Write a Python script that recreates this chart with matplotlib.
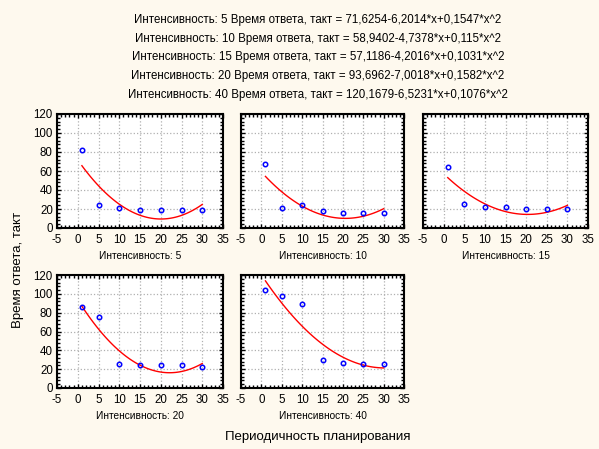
import numpy as np
import matplotlib.pyplot as plt
from matplotlib.ticker import MultipleLocator

plt.rcParams['font.family'] = ['Liberation Sans', 'DejaVu Sans']
plt.rcParams['axes.unicode_minus'] = False

# Данные
x = [1, 5, 10, 15, 20, 25, 30]
intens = [5, 10, 15, 20, 40]
y5 = [82, 24, 21, 19, 19, 19, 19]
y10 = [67, 21, 24, 18, 16, 16, 16]
y15 = [64, 25, 22, 22, 20, 20, 20]
y20 = [86, 75, 25, 24, 24, 24, 22]
y40 = [104, 98, 89, 30, 27, 26, 25]
ys = [y5, y10, y15, y20, y40]

# Коэффициенты регрессии (a + b*x + c*x^2)
coef_a = [71.6254, 58.9402, 57.1186, 93.6962, 120.1679]
coef_b = [-6.2014, -4.7378, -4.2016, -7.0018, -6.5231]
coef_c = [0.1547, 0.115, 0.1031, 0.1582, 0.1076]

W, H = 599, 449
fig = plt.figure(figsize=(W / 100, H / 100), dpi=100)
fig.patch.set_facecolor('#fef9ee')

# Заголовки
for i in range(5):
    s = 'Интенсивность: %d Время ответа, такт = %s-%s*x+%s*x^2' % (
        intens[i], ('%.4f' % coef_a[i]).replace('.', ','),
        ('%.4f' % abs(coef_b[i])).replace('.', ','),
        ('%g' % coef_c[i]).replace('.', ','))
    fig.text(318 / W, 1 - (20 + i * 18.7) / H, s, ha='center', va='center', fontsize=8.3)

# Панели: left, right, top, bottom в пикселях
boxes = [(57, 223, 114, 228), (241, 404, 114, 228), (423, 588, 114, 228),
         (57, 223, 275, 388), (241, 404, 275, 388)]

xx = np.linspace(1, 30, 100)
for i, (l, r, t, b) in enumerate(boxes):
    ax = fig.add_axes([l / W, 1 - b / H, (r - l) / W, (b - t) / H])
    ax.set_xlim(-5, 35)
    ax.set_ylim(0, 120)
    ax.xaxis.set_major_locator(MultipleLocator(5))
    ax.yaxis.set_major_locator(MultipleLocator(20))
    ax.xaxis.set_minor_locator(MultipleLocator(1))
    ax.yaxis.set_minor_locator(MultipleLocator(4))
    ax.grid(True, color='#b0b0b0', linestyle=':', linewidth=0.9)
    ax.tick_params(which='both', direction='in', top=True, right=True, labelsize=8.3)
    ax.tick_params(axis='x', pad=4)
    ax.tick_params(axis='y', pad=3)
    ax.tick_params(which='major', length=3, width=1)
    ax.tick_params(which='minor', length=2, width=1)
    for sp in ax.spines.values():
        sp.set_linewidth(1.5)
    if i in (1, 2, 4):
        ax.set_yticklabels([])
    yy = coef_a[i] + coef_b[i] * xx + coef_c[i] * xx ** 2
    ax.plot(xx, yy, color='red', linewidth=1)
    ax.plot(x, ys[i], 'o', markerfacecolor='none', markeredgecolor='blue',
            markersize=3.2, markeredgewidth=1.1, linestyle='none')
    fig.text((l + r) / 2 / W, 1 - (b + 28) / H, 'Интенсивность: %d' % intens[i],
             ha='center', va='center', fontsize=7.3)

fig.text(18 / W, 1 - 270 / H, 'Время ответа, такт', rotation=90,
         ha='center', va='center', fontsize=9.5)
fig.text(318 / W, 1 - 437 / H, 'Периодичность планирования',
         ha='center', va='center', fontsize=9.5)

fig.savefig('out.png', dpi=100, facecolor=fig.get_facecolor())
